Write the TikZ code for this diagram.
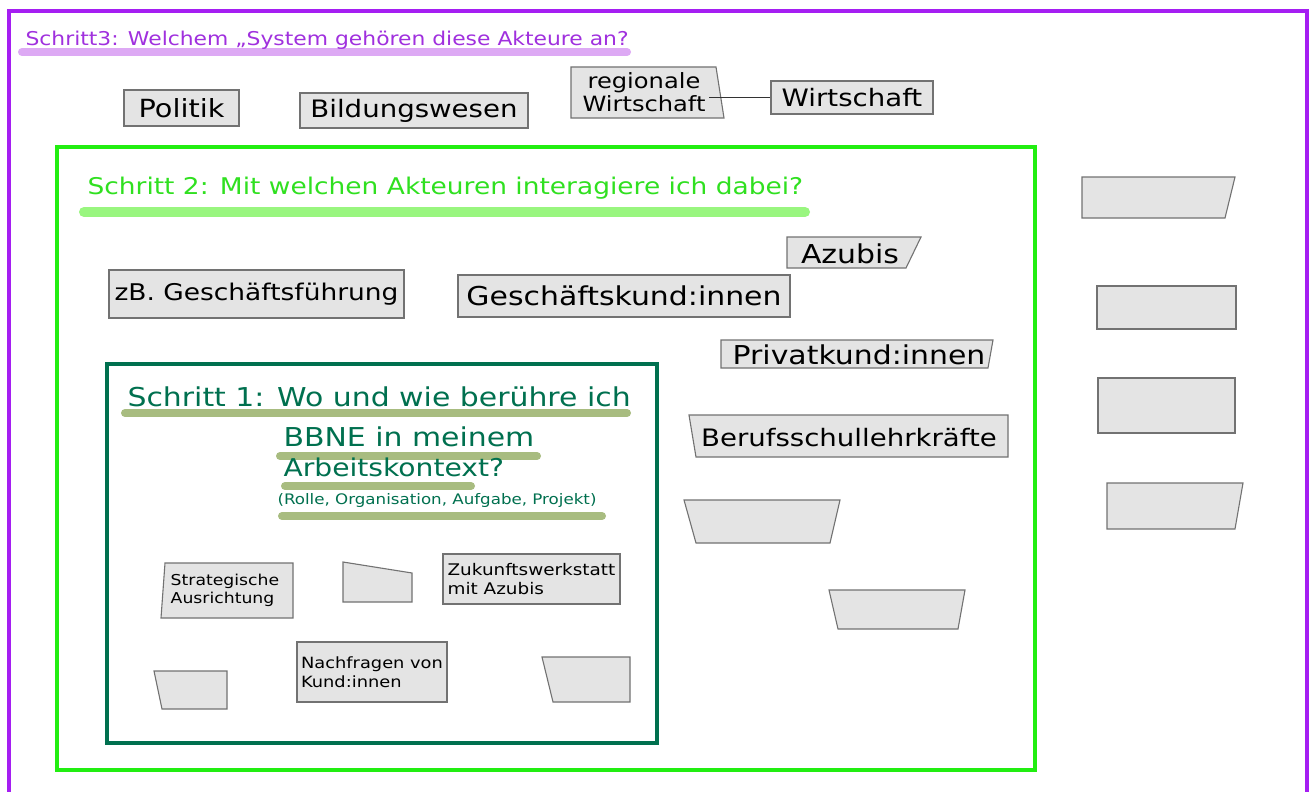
\documentclass[tikz,border=0pt]{standalone}
\usepackage{fontspec}
\setmainfont[FakeStretch=1.15]{DejaVu Sans}
\usepackage{xcolor}
\usepackage{tikz}
\usetikzlibrary{positioning}
\definecolor{stufeLila}{HTML}{A51EF2}
\definecolor{stufeLilaText}{HTML}{A030DE}
\definecolor{stufeLilaHell}{HTML}{DDA9F4}
\definecolor{stufeGruen}{HTML}{22EE11}
\definecolor{stufeGruenText}{HTML}{30E020}
\definecolor{stufeGruenHell}{HTML}{99F67F}
\definecolor{stufeDunkel}{HTML}{00704F}
\definecolor{stufeOliv}{HTML}{A8BC80}
\definecolor{kastenGrau}{HTML}{E4E4E4}
\definecolor{kastenRand}{HTML}{727272}

\tikzset{
  kasten/.style={draw=kastenRand, fill=kastenGrau, line width=1.1pt, inner sep=3pt},
  balken/.style={line width=#1, line cap=round},
}

\begin{document}
\begin{tikzpicture}[x=1pt, y=-1pt, every node/.style={font=\fontsize{24}{28}\selectfont}]
    \useasboundingbox (0,0) rectangle (1312,792);
    \fill[white] (0,0) rectangle (1312,792);

    % === Schritt 3: outer frame (runs past the bottom edge) ===
    \draw[stufeLila, line width=4.5pt] (9,800) -- (9,11) -- (1307,11) -- (1307,800);
    \draw[stufeLilaHell, balken=8pt] (22,52) -- (627,52);
    \node[stufeLilaText, font=\fontsize{19}{23}\selectfont, anchor=west] (titel3) at (22,40)
      {Schritt3: Welchem „System gehören diese Akteure an?};

    % --- systems ---
    \node[kasten, minimum width=115pt, minimum height=36pt, font=\fontsize{25}{29}\selectfont] (politik) at (181.5,108) {Politik};
    \node[kasten, minimum width=228pt, minimum height=35pt, font=\fontsize{24}{28}\selectfont] (bildung) at (414,110.5) {Bildungswesen};
    \filldraw[kasten] (571,67) -- (716,67) -- (724,118) -- (571,118) -- cycle;
    \node[font=\fontsize{21}{23}\selectfont, align=center] (regwi) at (644,92) {regionale\\Wirtschaft};
    \node[kasten, minimum width=162pt, minimum height=33pt, font=\fontsize{24}{28}\selectfont] (wirtschaft) at (852,97.5) {Wirtschaft};
    \draw[black!80, line width=1.1pt] (regwi.east |- wirtschaft.west) -- (wirtschaft.west);

    % --- empty boxes (left x top, right x top, right x bottom, left x bottom, top y, bottom y) ---
    \foreach \xa/\xb/\xc/\xd/\ya/\yb in {
      1082/1235/1225/1082/177/218, 1097/1236/1236/1097/286/329,
      1098/1235/1235/1098/378/433, 1107/1243/1235/1107/483/529,
      684/840/830/696/500/543, 829/965/958/838/590/629,
      154/227/227/162/671/709, 542/630/630/553/657/702} {
      \filldraw[kasten] (\xa,\ya) -- (\xb,\ya) -- (\xc,\yb) -- (\xd,\yb) -- cycle;
    }
    \filldraw[kasten] (343,562) -- (412,573) -- (412,602) -- (343,602) -- cycle;

    % === Schritt 2: green frame ===
    \draw[stufeGruen, line width=4.5pt] (57,147) rectangle (1035,770);
    \draw[stufeGruenHell, balken=10pt] (84,212) -- (805,212);
    \node[stufeGruenText, font=\fontsize{23}{27}\selectfont, anchor=west] (titel2) at (84,188)
      {Schritt 2: Mit welchen Akteuren interagiere ich dabei?};

    % --- actors ---
    \node[kasten, minimum width=295pt, minimum height=48pt, font=\fontsize{23}{27}\selectfont] (fuehrung) at (256.5,294) {zB. Geschäftsführung};
    \node[kasten, minimum width=332pt, minimum height=42pt, font=\fontsize{26}{30}\selectfont] (gkunden) at (624,296) {Geschäftskund:innen};
    \filldraw[kasten] (787,237) -- (921,237) -- (906,268) -- (787,268) -- cycle;
    \node[font=\fontsize{26}{30}\selectfont] (azubis) at (850,254) {Azubis};
    \filldraw[kasten] (721,340) -- (993,340) -- (988,368) -- (721,368) -- cycle;
    \node[font=\fontsize{26}{30}\selectfont] (pkunden) at (859,355) {Privatkund:innen};
    \filldraw[kasten] (689,415) -- (1008,415) -- (1008,457) -- (696,457) -- cycle;
    \node[font=\fontsize{24}{28}\selectfont] (lehrkraefte) at (849,438) {Berufsschullehrkräfte};

    % === Schritt 1: dark frame ===
    \draw[stufeDunkel, line width=4pt] (107,364) rectangle (657,743);
    \draw[stufeOliv, balken=8pt] (125,413) -- (627,413);
    \draw[stufeOliv, balken=8pt] (280,456) -- (537,456);
    \draw[stufeOliv, balken=8pt] (285,486) -- (471,486);
    \draw[stufeOliv, balken=8pt] (282,516) -- (602,516);
    \node[stufeDunkel, font=\fontsize{26}{30}\selectfont, anchor=west] (titel1) at (124,397) {Schritt 1: Wo und wie berühre ich};
    \node[stufeDunkel, font=\fontsize{26}{30}\selectfont, anchor=west] (titel1b) at (280,437) {BBNE in meinem};
    \node[stufeDunkel, font=\fontsize{24.5}{28}\selectfont, anchor=west] (titel1c) at (280,467) {Arbeitskontext?};
    \node[stufeDunkel, font=\fontsize{14.5}{17}\selectfont, anchor=west] (titel1d) at (274,500)
      {(Rolle, Organisation, Aufgabe, Projekt)};

    % --- own touch points ---
    \filldraw[kasten] (165,563) -- (293,563) -- (293,618) -- (161,618) -- cycle;
    \node[font=\fontsize{15}{18}\selectfont, align=left] (strategie) at (225,590) {Strategische\\Ausrichtung};
    \node[kasten, minimum width=177pt, minimum height=50pt, inner xsep=1pt, font=\fontsize{16}{19}\selectfont, align=left]
      (werkstatt) at (531.5,579) {Zukunftswerkstatt\\mit Azubis};
    \node[kasten, minimum width=150pt, minimum height=60pt, inner xsep=1pt, font=\fontsize{15.5}{19}\selectfont, align=left]
      (nachfragen) at (372,672) {Nachfragen von\\Kund:innen};
\end{tikzpicture}
\end{document}
